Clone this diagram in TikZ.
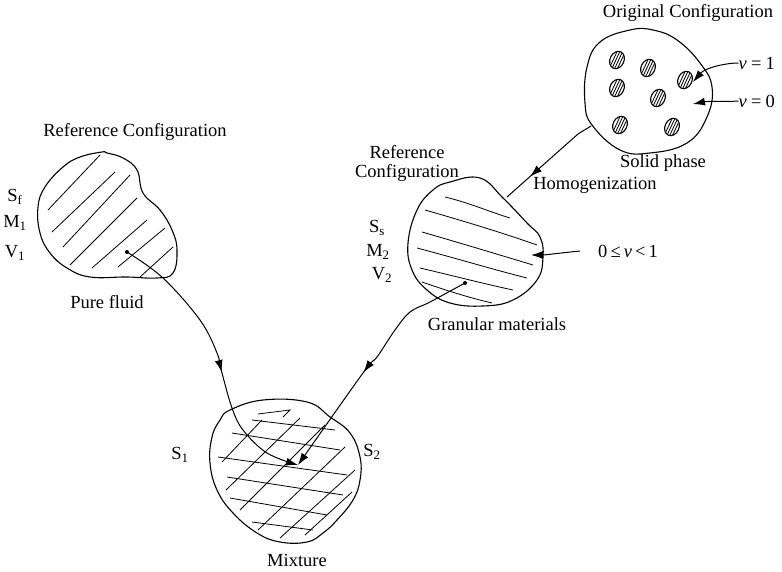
\documentclass[tikz,border=0pt]{standalone}
\usepackage{fontspec}
\setmainfont{Liberation Serif}
\usetikzlibrary{arrows.meta,decorations.markings}

\tikzset{
  lbl/.style={font=\fontsize{18.5}{19}\selectfont, inner sep=0pt},
  outline/.style={black, line width=1.1pt},
  hatch/.style={black, line width=0.8pt},
  flow/.style={black, line width=1pt},
  midtip/.style={postaction={decorate}, decoration={markings, mark=at position #1 with {\arrow{Latex[length=12pt,width=8pt]}}}},
  endtip/.style={-{Latex[length=12pt,width=8pt]}}
}

\begin{document}
\begin{tikzpicture}[x=1pt,y=-1pt]
\useasboundingbox (0,0) rectangle (782,572);


\draw[outline] plot[smooth cycle, tension=0.7] coordinates {(630,30) (600,42) (587,67) (585,103) (592,125) (620,150) (650,153) (687,143) (707,117) (712,87) (700,63) (677,40) (653,30)};

\foreach \ex/\ey in {617/60, 648/68, 685/80, 617/88, 658/98, 620/125, 672/127}{
  \begin{scope}[shift={(\ex,\ey)}, rotate=-25]
    \draw[outline] (0,0) ellipse [x radius=7pt, y radius=9pt];
    \clip (0,0) ellipse [x radius=7pt, y radius=9pt];
    \foreach \k in {-3.5,-1,1.5,4}
      \draw[hatch] (\k,-10) -- (\k,10);
  \end{scope}
}

\node[lbl] (origcfg) at (688,13) {Original Configuration};
\node[lbl] (solid) at (663,163) {Solid phase};
\node[lbl, anchor=east] (vone) at (775,63) {\itshape ν\,=\,\upshape 1};
\node[lbl, anchor=east] (vzero) at (775,101) {\itshape ν\,=\,\upshape 0};

\draw[flow, endtip] (vone.west) .. controls (725,63) and (705,68) .. (693,82);
\draw[flow, endtip] (vzero.west) .. controls (725,102) and (708,101) .. (693,104);


\draw[flow, midtip=0.72] (591,126) -- (578,134) -- (507,197);
\node[lbl] (homog) at (595,185) {Homogenization};


\draw[outline] plot[smooth cycle, tension=0.7] coordinates {(450,182) (480,178) (503,198) (527,223) (540,237) (543,257) (537,280) (513,300) (483,306) (450,303) (427,290) (412,270) (408,243) (417,210) (433,190)};

\draw[hatch] (445,197) .. controls (470,203) and (490,212) .. (510,218);
\draw[hatch] (425,210) .. controls (460,220) and (500,232) .. (537,245);
\draw[hatch] (422,232) .. controls (460,243) and (500,255) .. (533,265);
\draw[hatch] (417,248) .. controls (455,258) and (495,270) .. (527,278);
\draw[hatch] (420,268) .. controls (450,275) and (485,284) .. (513,290);
\draw[hatch] (422,282) .. controls (445,290) and (470,298) .. (492,303);

\node[lbl, align=center] (refcfgB) at (407,163) {Reference\\Configuration};
\node[lbl] (Ss) at (377,228) {S\textsubscript{s}};
\node[lbl] (Mtwo) at (378,252) {M\textsubscript{2}};
\node[lbl] (Vtwo) at (382,275) {V\textsubscript{2}};
\node[lbl] (granular) at (497,324) {Granular materials};
\node[lbl] (range) at (628,251) {0\,≤\,\itshape ν\upshape\,<\,1};

\draw[flow, endtip] (580,251) .. controls (560,253) and (545,255) .. (531,255);


\draw[outline] plot[smooth cycle, tension=0.7] coordinates {(102,152) (80,157) (63,167) (45,187) (38,207) (40,233) (50,253) (67,268) (90,277) (127,277) (157,278) (173,273) (177,250) (172,230) (160,210) (143,193) (137,170) (123,158) (107,153)};

\draw[hatch] (48,210) -- (100,155);
\draw[hatch] (52,232) -- (115,172);
\draw[hatch] (63,247) -- (130,175);
\draw[hatch] (70,265) -- (137,198);
\draw[hatch] (92,268) -- (147,220);
\draw[hatch] (118,267) -- (165,228);
\draw[hatch] (140,277) -- (173,247);

\node[lbl] (refcfgA) at (135,132) {Reference Configuration};
\node[lbl] (Sf) at (15,197) {S\textsubscript{f}};
\node[lbl] (Mone) at (15,223) {M\textsubscript{1}};
\node[lbl] (Vone) at (15,253) {V\textsubscript{1}};
\node[lbl] (fluid) at (107,302) {Pure fluid};


\draw[outline] plot[smooth cycle, tension=0.7] coordinates {(230,410) (263,400) (307,402) (330,417) (350,433) (360,457) (360,480) (353,500) (337,520) (323,533) (307,542) (280,542) (257,533) (233,513) (217,490) (210,463) (212,437) (220,420)};

\draw[hatch] (258,414) -- (290,410) -- (283,417);
\draw[hatch] (252,420) -- (335,430);
\draw[hatch] (232,433) -- (340,450);
\draw[hatch] (218,457) -- (347,475);
\draw[hatch] (227,477) -- (343,495);
\draw[hatch] (230,498) -- (327,515);
\draw[hatch] (252,522) -- (313,530);

\draw[hatch] (222,462) -- (262,420);
\draw[hatch] (226,490) -- (300,418);
\draw[hatch] (240,510) -- (325,425);
\draw[hatch] (258,530) -- (345,447);
\draw[hatch] (280,538) -- (355,470);
\draw[hatch] (305,535) -- (352,492);

\node[lbl] (Sone) at (180,455) {S\textsubscript{1}};
\node[lbl] (Stwo) at (372,452) {S\textsubscript{2}};
\node[lbl] (mixture) at (297,560) {Mixture};


\coordinate (fluiddot) at (127,252);
\coordinate (grandot) at (465,283);
\coordinate (mixhit) at (298,465);

\fill (fluiddot) circle [radius=2pt];
\fill (grandot) circle [radius=2pt];

\draw[flow, midtip=0.55, endtip] plot[smooth, tension=0.6] coordinates {(fluiddot) (163,278) (200,320) (217,353) (222,373) (232,408) (243,430) (267,453) (mixhit)};
\draw[flow, midtip=0.55, endtip] plot[smooth, tension=0.6] coordinates {(grandot) (430,302) (410,312) (395,330) (377,357) (363,373) (mixhit)};

\end{tikzpicture}
\end{document}
